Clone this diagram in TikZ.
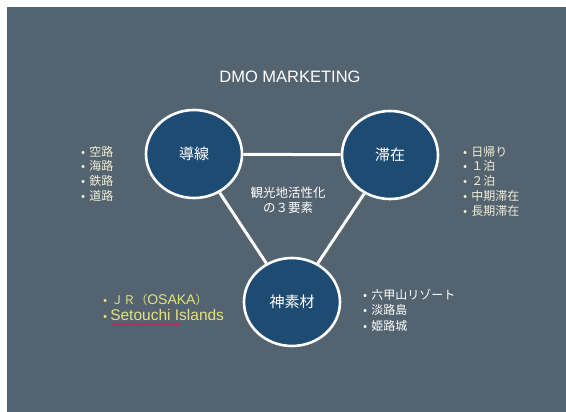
\documentclass[tikz,border=0pt]{standalone}
\usepackage{fontspec}
\setmainfont{Noto Sans CJK JP}
\newfontfamily\latinsans{Liberation Sans}
\usetikzlibrary{shapes.geometric}
\definecolor{slidebg}{HTML}{536370}
\definecolor{circfill}{HTML}{1E4B72}
\definecolor{cream}{HTML}{F2EED6}
\definecolor{ylw}{HTML}{E8E27A}
\definecolor{squig}{HTML}{B0305A}
\tikzset{
  hub/.style={ellipse, draw=white, line width=2.6pt, fill=circfill,
    minimum width=96pt, minimum height=88pt, inner sep=0pt,
    text=white, font=\fontsize{15}{18}\selectfont},
  link/.style={draw=white, line width=3pt},
  lst/.style={anchor=north west, align=left, inner sep=0pt,
    font=\fontsize{12}{14.7}\selectfont},
}
\begin{document}
\begin{tikzpicture}[x=1pt,y=-1pt]
\useasboundingbox (0,0) rectangle (566,412);
\fill[white] (0,0) rectangle (566,412);
\fill[slidebg] (7,7) rectangle (566,412);
\node[text=white, font=\latinsans\fontsize{16.5}{19}\selectfont] (title) at (290,77) {DMO MARKETING};
\node[hub] (dousen) at (194,154) {導線};
\node[hub] (taizai) at (390,155) {滞在};
\node[hub] (sozai) at (292,302) {神素材};
\draw[link] (dousen) -- (taizai);
\draw[link] (dousen) -- (sozai);
\draw[link] (taizai) -- (sozai);
\node[text=white, align=center, font=\fontsize{12.5}{15}\selectfont] (center) at (288,200) {観光地活性化\\の３要素};
\node[lst, text=cream] (left) at (81,146) {•\hspace{4pt}空路\\•\hspace{4pt}海路\\•\hspace{4pt}鉄路\\•\hspace{4pt}道路};
\node[lst, text=cream] (right) at (463,146) {•\hspace{4pt}日帰り\\•\hspace{4pt}１泊\\•\hspace{4pt}２泊\\•\hspace{4pt}中期滞在\\•\hspace{4pt}長期滞在};
\node[lst, text=ylw, font=\fontsize{12}{16}\selectfont] (bl) at (103,294) {•\hspace{4pt}ＪＲ（{\latinsans\fontsize{14}{16}\selectfont OSAKA}）\\•\hspace{3pt}{\latinsans\fontsize{15.5}{16}\selectfont Setouchi Islands}};
\coordinate (sq1) at (112,324.5);
\coordinate (sq2) at (180,324.5);
\draw[squig, line width=1pt] (sq1) -- (sq2);
\node[lst, text=white, font=\fontsize{12}{15.5}\selectfont] (br) at (363,289) {•\hspace{4pt}六甲山リゾート\\•\hspace{4pt}淡路島\\•\hspace{4pt}姫路城};
\end{tikzpicture}
\end{document}
